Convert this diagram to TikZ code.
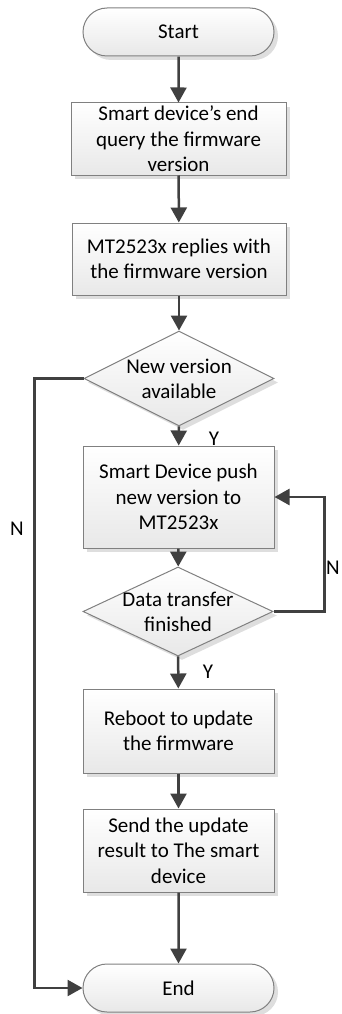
\documentclass[tikz,border=0pt]{standalone}
\usepackage{fontspec}
\setmainfont{Carlito}
\usepackage{tikz}
\usetikzlibrary{arrows.meta,shapes.geometric,shapes.misc,shadows}

\definecolor{linegray}{HTML}{404040}
\definecolor{edgegray}{HTML}{808080}

\tikzset{
  shapebase/.style={draw=edgegray,line width=1pt,top color=white,bottom color=black!9,
    drop shadow={shadow xshift=4pt,shadow yshift=-4pt,fill=black!13,opacity=1},
    font=\fontsize{21}{25.5}\selectfont,align=center,inner sep=0pt},
  procbox/.style={shapebase,rectangle,minimum width=#1},
  procbox/.default=191pt,
  termbox/.style={shapebase,rounded rectangle,minimum width=191pt,minimum height=48pt},
  decbox/.style={shapebase,diamond,minimum width=190pt},
  flow/.style={draw=linegray,line width=2.5pt,-{Triangle[length=15pt,width=16pt]}},
  flowlabel/.style={font=\fontsize{21}{25}\selectfont}
}

\begin{document}
\begin{tikzpicture}[x=1pt,y=-1pt]
  \useasboundingbox (0,0) rectangle (341,1014);
  % main column
  \node[termbox] (start) at (178.5,32) {Start};
  \node[procbox=215pt,minimum height=72pt] (query) at (178.5,139)
    {Smart device’s end\\query the firmware\\version};
  \node[procbox=214pt,minimum height=72pt] (reply) at (179,259)
    {MT2523x replies with\\the firmware version};
  \node[decbox,minimum height=95pt,
    label={[flowlabel,align=center]center:New version\\available}] (newver) at (179,378.5) {};
  \node[procbox,minimum height=102pt] (push) at (178.5,497)
    {Smart Device push\\new version to\\MT2523x};
  \node[decbox,minimum height=89pt,
    label={[flowlabel,align=center]center:Data transfer\\finished}] (done) at (178,611.5) {};
  \node[procbox,minimum height=84pt] (reboot) at (178.5,731)
    {Reboot to update\\the firmware};
  \node[procbox,minimum height=83pt] (send) at (178.5,850.5)
    {Send the update\\result to The smart\\device};
  \node[termbox] (end) at (178.5,988) {End};

  % connectors
  \draw[flow] (start) -- (query);
  \draw[flow] (query) -- (reply);
  \draw[flow] (reply) -- (newver);
  \draw[flow] (newver) -- (push);
  \draw[flow] (push) -- (done);
  \draw[flow] (done) -- (reboot);
  \draw[flow] (reboot) -- (send);
  \draw[flow] (send) -- (end);
  \draw[flow] (done.east) -- ++(51,0) |- (push.east);
  \draw[flow] (newver.west) -- ++(-49,0) |- (end.west);

  % branch labels
  \node[flowlabel] (yes1) at (214,439) {Y};
  \node[flowlabel] (yes2) at (208,672) {Y};
  \node[flowlabel] (no1) at (17,529) {N};
  \node[flowlabel] (no2) at (333,568) {N};
\end{tikzpicture}
\end{document}
